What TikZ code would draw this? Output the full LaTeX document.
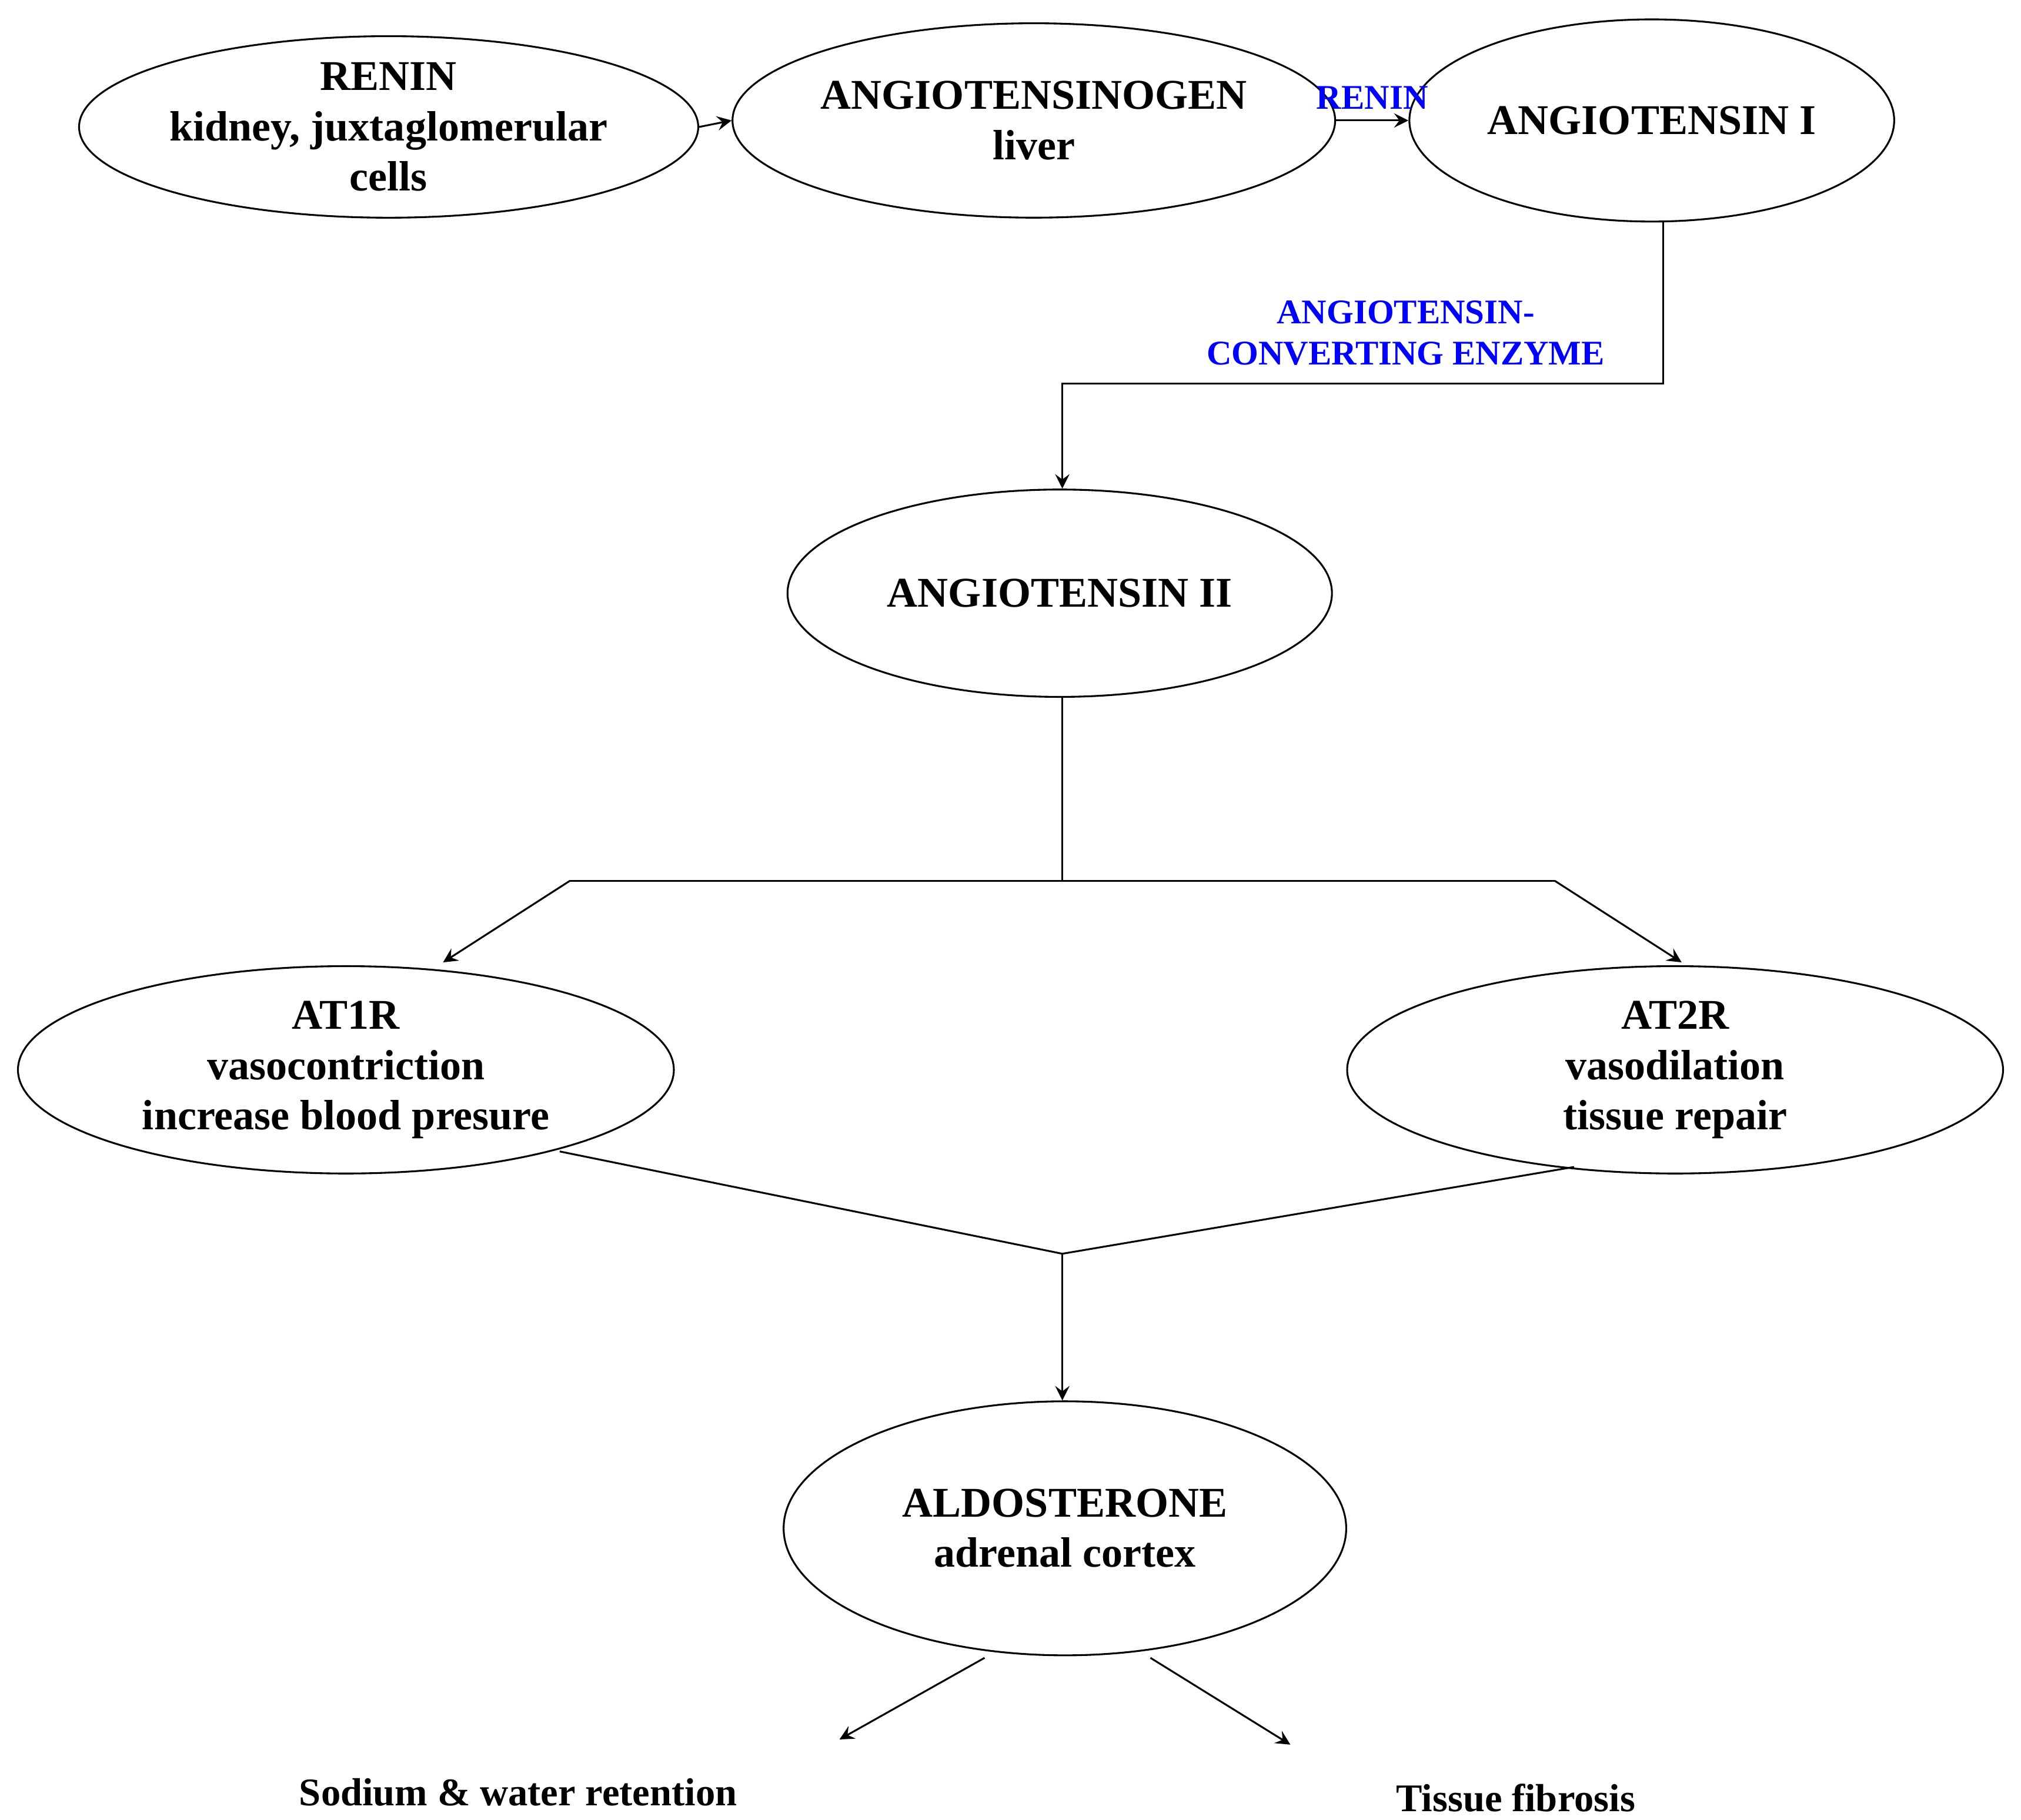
\documentclass[tikz,border=0pt]{standalone}
\usepackage{fontspec}
\setmainfont{Liberation Serif}
\usetikzlibrary{shapes.geometric, positioning, calc}

\begin{document}
\begin{tikzpicture}[x=0.01cm, y=-0.01cm,
    hormone/.style={ellipse, draw=black, inner sep=0pt, align=center, font=\fontsize{9.3}{11}\selectfont\bfseries},
    enzyme/.style={text=blue, align=center, font=\fontsize{7.6}{9}\selectfont\bfseries},
    effect/.style={font=\fontsize{8.6}{10}\selectfont\bfseries},
    flow/.style={->, >=stealth, thin}]
      \useasboundingbox (0, 0) rectangle (1560, 1405);

      \node[hormone, minimum width=4.06cm, minimum height=1.4cm] (renin) at (300, 98) {RENIN\\kidney, juxtaglomerular\\cells};
      \node[hormone, minimum width=3.96cm, minimum height=1.5cm] (agen) at (798, 93) {ANGIOTENSINOGEN\\liver};
      \node[hormone, minimum width=3.74cm, minimum height=1.56cm] (ang1) at (1275, 93) {ANGIOTENSIN I};
      \node[hormone, minimum width=4.2cm, minimum height=1.6cm] (ang2) at (818, 458) {ANGIOTENSIN II};
      \node[hormone, minimum width=5.06cm, minimum height=1.6cm] (at1r) at (267, 826) {AT1R\\vasocontriction\\increase blood presure};
      \node[hormone, minimum width=5.06cm, minimum height=1.6cm] (at2r) at (1293, 826) {AT2R\\vasodilation\\tissue repair};
      \node[hormone, minimum width=4.34cm, minimum height=1.96cm] (aldo) at (822, 1180) {ALDOSTERONE\\adrenal cortex};

      \node[effect] (sodium) at (400, 1384) {Sodium \& water retention};
      \node[effect] (fibrosis) at (1170, 1388) {Tissue fibrosis};

      % enzymes
      \draw[flow] (renin.east) -- (agen.west);
      \draw[flow] (agen.east) -- node[enzyme, above=-1pt] (reninE) {RENIN} (ang1.west);

      \coordinate (aceR) at (1284, 296);
      \coordinate (aceL) at (820, 296);
      \draw[flow] (ang1.south -| aceR) -- (aceR) -- (aceL) -- (ang2.north -| aceL);
      \node[enzyme] (ace) at (1085, 257) {ANGIOTENSIN-\\CONVERTING ENZYME};

      % receptors
      \coordinate (split) at (820, 680);
      \coordinate (splitL) at (440, 680);
      \coordinate (splitR) at (1200, 680);
      \draw (ang2.south -| split) -- (split);
      \draw (splitL) -- (splitR);
      \draw[flow] (splitL) -- (342, 743);
      \draw[flow] (splitR) -- (1298, 743);

      \coordinate (join) at (820, 968);
      \draw (432, 889) -- (join) -- (1215, 901);
      \draw[flow] (join) -- (aldo.north -| join);

      % effects
      \draw[flow] (760, 1280) -- (648, 1343);
      \draw[flow] (888, 1280) -- (996, 1347);
\end{tikzpicture}
\end{document}
